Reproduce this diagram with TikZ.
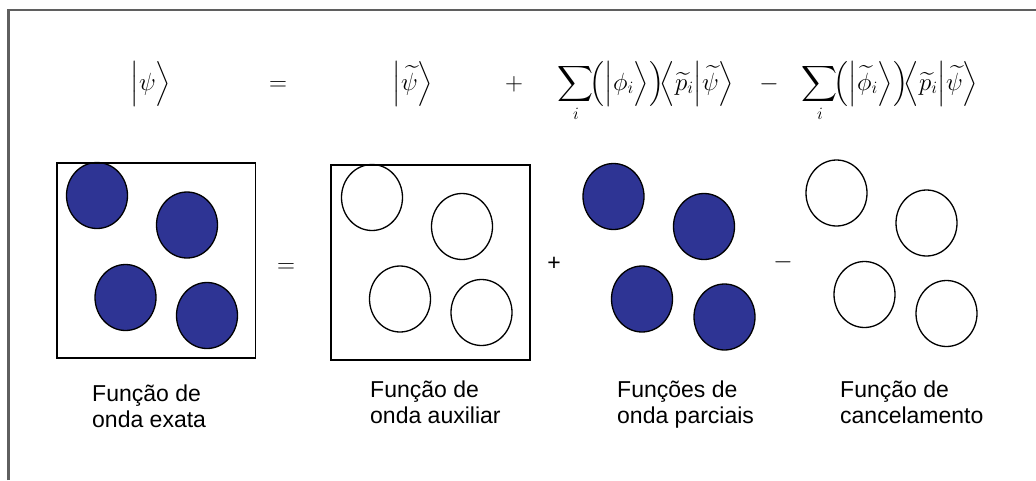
\documentclass[tikz,border=0pt]{standalone}
\usepackage{amsmath,amssymb}
\usepackage{fontspec}
\newfontfamily\labelfont{Liberation Sans}
\usetikzlibrary{positioning}
\definecolor{orbblue}{RGB}{46,52,148}
\definecolor{framegray}{RGB}{95,95,95}

\tikzset{
  full/.style={draw=black, fill=orbblue, line width=1.3pt},
  hollow/.style={draw=black, fill=white, line width=1.3pt},
  cellbox/.style={draw=black, line width=1.6pt},
  caption/.style={font=\labelfont\fontsize{23}{25.5}\selectfont, align=left, anchor=north west, inner sep=0pt},
  term/.style={font=\fontsize{25}{30}\selectfont, anchor=base, inner sep=0pt},
  oper/.style={font=\labelfont\fontsize{23}{25}\selectfont, inner sep=0pt},
}

\begin{document}
\begin{tikzpicture}[x=1pt, y=-1pt]
    \useasboundingbox (0,0) rectangle (1036,480);

    % --- Outer frame (right and bottom sides are cut off) ---
    \draw[framegray, line width=2.6pt] (8.5,480) -- (8.5,10) -- (1036,10);

    % --- Equation on top ---
    \node[term] (Psi)  at (151,90) {$\Bigl|\psi\Bigr\rangle$};
    \node[term] (Eq)   at (278,90) {$=$};
    \node[term] (PsiT) at (413,90) {$\Bigl|\widetilde{\psi}\Bigr\rangle$};
    \node[term] (Plus) at (514,90) {$+$};
    \node[term] (SumA) at (646,90) {$\displaystyle\sum\limits_i\!\Bigl(\Bigl|\phi_i\Bigr\rangle\Bigr)\!\Bigl\langle\widetilde{p}_i\Bigr|\widetilde{\psi}\Bigr\rangle$};
    \node[term] (Minus) at (769,90) {$-$};
    \node[term] (SumB) at (890,90) {$\displaystyle\sum\limits_i\!\Bigl(\Bigl|\widetilde{\phi}_i\Bigr\rangle\Bigr)\!\Bigl\langle\widetilde{p}_i\Bigr|\widetilde{\psi}\Bigr\rangle$};

    % --- Exact wave function (filled, boxed) ---
    \draw[full] (97,195.5) ellipse (30.5 and 33);
    \draw[full] (187,225) ellipse (30.5 and 33);
    \draw[full] (125.5,297.5) ellipse (30.5 and 33);
    \draw[full] (207,315.5) ellipse (30.5 and 33);
    \draw[cellbox] (57,163) rectangle (255.5,358);

    \node[oper, font=\fontsize{28}{30}\selectfont] (OpEq) at (286,268) {$=$};

    % --- Auxiliary wave function (hollow, boxed) ---
    \draw[hollow] (372,197.5) ellipse (30.5 and 33);
    \draw[hollow] (462,226.5) ellipse (30.5 and 33);
    \draw[hollow] (400,299) ellipse (30.5 and 33);
    \draw[hollow] (481.5,312.5) ellipse (30.5 and 33);
    \draw[cellbox] (331,165) rectangle (530,360);

    \node[oper] (OpPlus) at (554,264) {+};

    % --- Partial wave functions (filled) ---
    \draw[full] (613.5,196.5) ellipse (30.5 and 33);
    \draw[full] (704,226.5) ellipse (30.5 and 33);
    \draw[full] (642,299) ellipse (30.5 and 33);
    \draw[full] (724.5,317) ellipse (30.5 and 33);

    \node[oper, font=\fontsize{28}{30}\selectfont] (OpMinus) at (783,262) {$-$};

    % --- Cancelling function (hollow) ---
    \draw[hollow] (836.5,193) ellipse (30.5 and 33);
    \draw[hollow] (926.5,223) ellipse (30.5 and 33);
    \draw[hollow] (864.5,294.5) ellipse (30.5 and 33);
    \draw[hollow] (946.5,313.5) ellipse (30.5 and 33);

    % --- Captions ---
    \node[caption] (CapExact)  at (92,385)  {Função de\\onda exata};
    \node[caption] (CapAux)    at (370,381) {Função de\\onda auxiliar};
    \node[caption] (CapPart)   at (617,381) {Funções de\\onda parciais};
    \node[caption] (CapCancel) at (840,381) {Função de\\cancelamento};

\end{tikzpicture}
\end{document}
